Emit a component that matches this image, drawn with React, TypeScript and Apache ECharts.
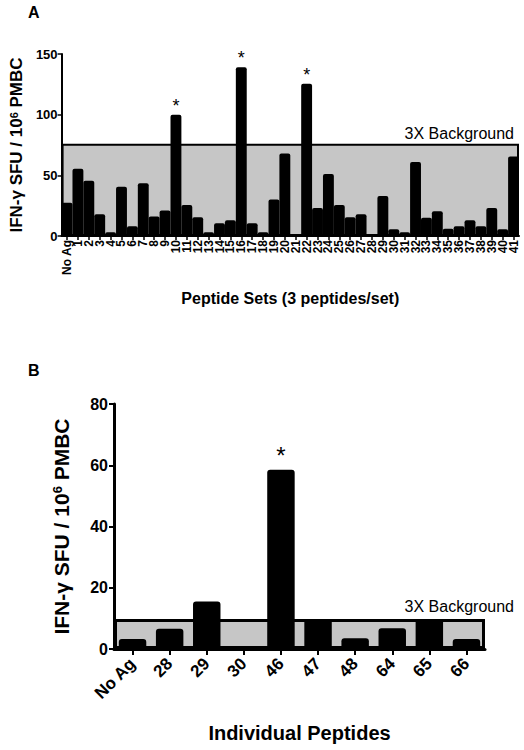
import React, { useEffect, useRef } from "react";
import * as echarts from "echarts";

const FONT = "'Liberation Sans', Arial, Helvetica, sans-serif";

// Panel A: peptide sets
const catsA = [
  "No Ag", "1", "2", "3", "4", "5", "6", "7", "8", "9", "10", "11", "12", "13", "14", "15",
  "16", "17", "18", "19", "20", "21", "22", "23", "24", "25", "26", "27", "28", "29", "30",
  "31", "32", "33", "34", "35", "36", "37", "38", "39", "40", "41",
];
const valsA = [
  27.5, 55.5, 45.5, 18, 3, 40.5, 8, 43.5, 16, 21, 100, 25.5, 15.5, 3, 10.5, 13,
  139, 10.5, 3, 30, 68, 0, 125.5, 23, 51, 25.5, 15.5, 18, 0, 33, 5.5,
  3, 61, 15, 20.5, 6, 8, 13, 8, 23, 5.5, 65.5,
];
const starsA = ["10", "16", "22"];
const bgA = 76;
const yTicksA = { min: 0, max: 150, interval: 50 };

// Panel B: individual peptides
const catsB = ["No Ag", "28", "29", "30", "46", "47", "48", "64", "65", "66"];
const valsB = [3.3, 6.6, 15.5, 0, 58.5, 9.8, 3.5, 6.8, 9.8, 3.3];
const starsB = ["46"];
const bgB = 9.8;
const yTicksB = { min: 0, max: 80, interval: 20 };

const bgLabel = "3X Background";
const yName = "{a|IFN-γ SFU / 10}{s|6}{a| PMBC}";

function withStars(cats: string[], vals: number[], stars: string[], fontSize: number, dist: number) {
  return vals.map((v, i) =>
    stars.includes(cats[i])
      ? {
          value: v,
          label: {
            show: true,
            position: "top",
            distance: dist,
            formatter: "*",
            color: "#000",
            fontSize,
            fontFamily: FONT,
          },
        }
      : v
  );
}

export default function App() {
  const ref = useRef<HTMLDivElement>(null);
  useEffect(() => {
    if (!ref.current) return;
    const chart = echarts.init(ref.current, undefined, { renderer: "svg" });
    const option: any = {
      animation: false,
      backgroundColor: "#fff",
      textStyle: { fontFamily: FONT },
      grid: [
        { left: 59, top: 54, width: 460, height: 182 },
        { left: 114, top: 404, width: 371, height: 245 },
      ],
      xAxis: [
        {
          type: "category",
          gridIndex: 0,
          data: catsA,
          axisLine: { show: true, lineStyle: { color: "#000", width: 2 } },
          axisTick: { show: true, alignWithLabel: true, length: 4, lineStyle: { color: "#000", width: 1.5 } },
          axisLabel: {
            interval: 0,
            rotate: 90,
            margin: 4,
            color: "#000",
            fontWeight: "bold",
            fontSize: 12,
            fontFamily: FONT,
          },
          name: "Peptide Sets (3 peptides/set)",
          nameLocation: "middle",
          nameGap: 54,
          nameTextStyle: { color: "#000", fontWeight: "bold", fontSize: 16, fontFamily: FONT },
        },
        { type: "category", gridIndex: 0, data: ["bg"], show: false },
        {
          type: "category",
          gridIndex: 1,
          data: catsB,
          axisLine: { show: true, lineStyle: { color: "#000", width: 3 } },
          axisTick: { show: true, alignWithLabel: true, length: 6, lineStyle: { color: "#000", width: 2 } },
          axisLabel: {
            interval: 0,
            rotate: 45,
            margin: 12,
            color: "#000",
            fontWeight: "bold",
            fontSize: 17,
            fontFamily: FONT,
          },
          name: "Individual Peptides",
          nameLocation: "middle",
          nameGap: 74,
          nameTextStyle: { color: "#000", fontWeight: "bold", fontSize: 20, fontFamily: FONT },
        },
        { type: "category", gridIndex: 1, data: ["bg"], show: false },
      ],
      yAxis: [
        {
          type: "value",
          gridIndex: 0,
          ...yTicksA,
          splitLine: { show: false },
          axisLine: { show: true, lineStyle: { color: "#000", width: 2 } },
          axisTick: { show: true, length: 4, lineStyle: { color: "#000", width: 1.5 } },
          axisLabel: { color: "#000", fontWeight: "bold", fontSize: 13, margin: 4, fontFamily: FONT },
          name: yName,
          nameLocation: "middle",
          nameGap: 32,
          nameTextStyle: {
            color: "#000",
            fontFamily: FONT,
            rich: {
              a: { fontSize: 17, fontWeight: "bold", color: "#000", fontFamily: FONT },
              s: { fontSize: 11, fontWeight: "bold", color: "#000", verticalAlign: "top", fontFamily: FONT },
            },
          },
        },
        {
          type: "value",
          gridIndex: 1,
          ...yTicksB,
          splitLine: { show: false },
          axisLine: { show: true, lineStyle: { color: "#000", width: 3 } },
          axisTick: { show: true, length: 5, lineStyle: { color: "#000", width: 2 } },
          axisLabel: { color: "#000", fontWeight: "bold", fontSize: 16, margin: 6, fontFamily: FONT },
          name: yName,
          nameLocation: "middle",
          nameGap: 42,
          nameTextStyle: {
            color: "#000",
            fontFamily: FONT,
            rich: {
              a: { fontSize: 21, fontWeight: "bold", color: "#000", fontFamily: FONT },
              s: { fontSize: 13, fontWeight: "bold", color: "#000", verticalAlign: "top", fontFamily: FONT },
            },
          },
        },
      ],
      series: [
        {
          type: "bar",
          xAxisIndex: 1,
          yAxisIndex: 0,
          data: [bgA],
          barWidth: "100%",
          z: 1,
          silent: true,
          itemStyle: { color: "#c6c6c6", borderColor: "#000", borderWidth: 2 },
        },
        {
          type: "bar",
          xAxisIndex: 0,
          yAxisIndex: 0,
          data: withStars(catsA, valsA, starsA, 18, 0),
          barWidth: "100%",
          z: 3,
          itemStyle: { color: "#000", borderRadius: [2, 2, 0, 0] },
        },
        {
          type: "bar",
          xAxisIndex: 3,
          yAxisIndex: 1,
          data: [bgB],
          barWidth: "100%",
          z: 1,
          silent: true,
          itemStyle: { color: "#c6c6c6", borderColor: "#000", borderWidth: 3 },
        },
        {
          type: "bar",
          xAxisIndex: 2,
          yAxisIndex: 1,
          data: withStars(catsB, valsB, starsB, 24, 2),
          barWidth: "74%",
          z: 3,
          itemStyle: { color: "#000", borderRadius: [3, 3, 0, 0] },
        },
      ],
      graphic: [
        { type: "text", left: 28, top: 4, style: { text: "A", font: `bold 16px ${FONT}`, fill: "#000" } },
        { type: "text", left: 28, top: 362, style: { text: "B", font: `bold 16px ${FONT}`, fill: "#000" } },
        { type: "text", right: 10, top: 125, style: { text: bgLabel, font: `16px ${FONT}`, fill: "#000" } },
        { type: "text", right: 10, top: 598, style: { text: bgLabel, font: `16px ${FONT}`, fill: "#000" } },
      ],
    };
    chart.setOption(option);
    return () => chart.dispose();
  }, []);
  return (
    <div
      ref={ref}
      style={{ position: "absolute", left: 0, top: 0, width: 524, height: 750, background: "#fff" }}
    />
  );
}
